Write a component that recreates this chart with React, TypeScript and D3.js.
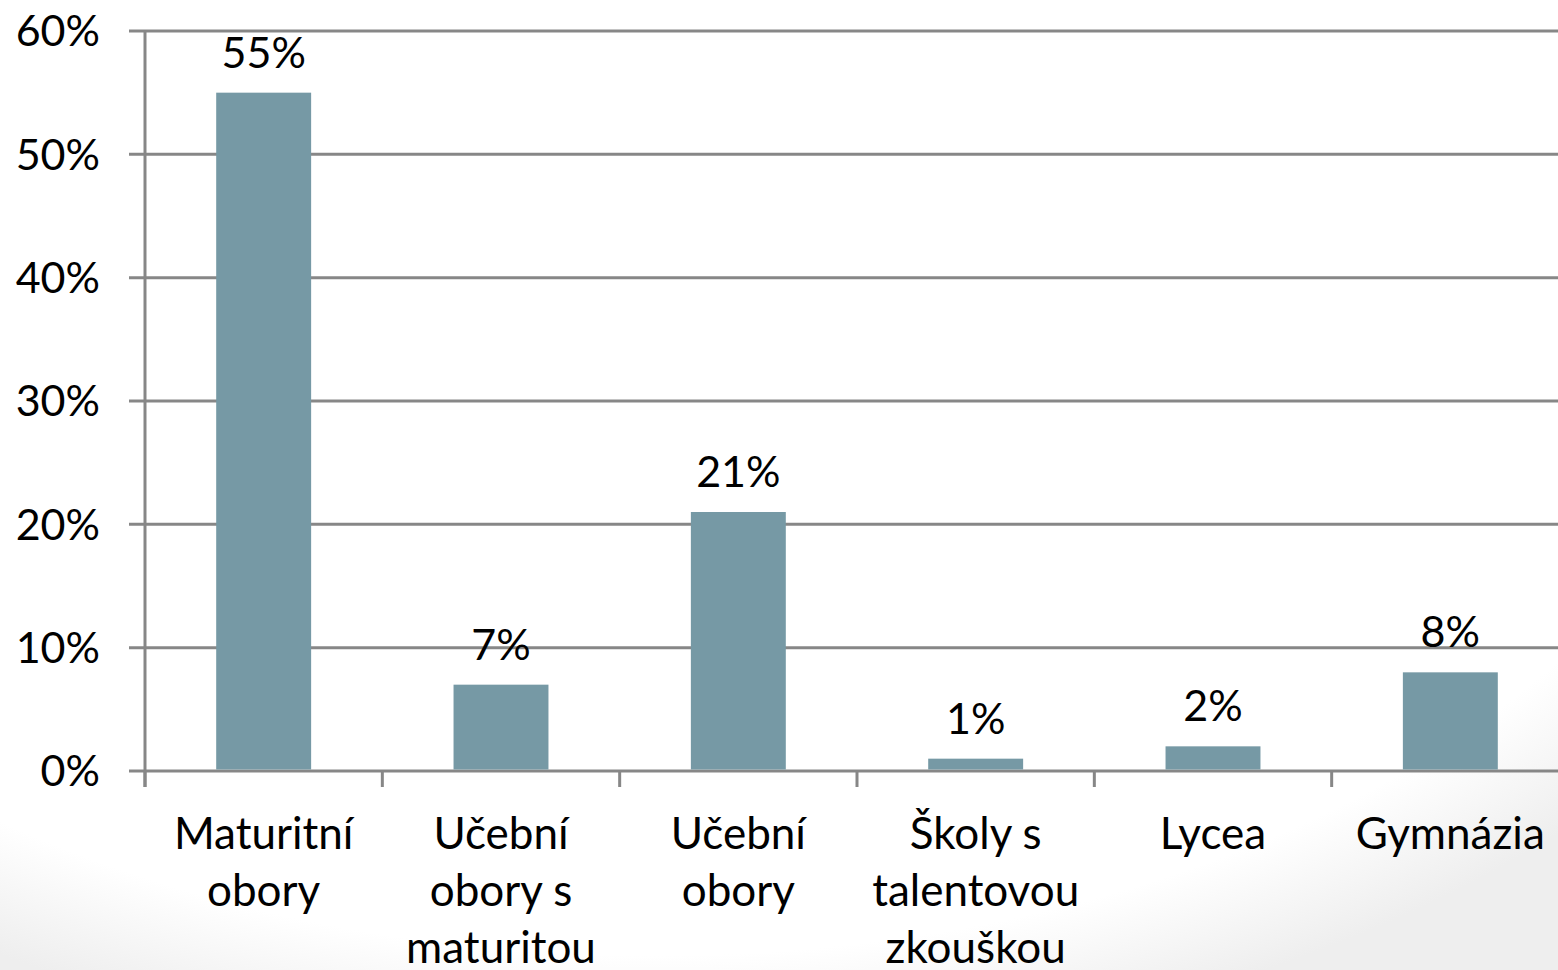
import { useMemo } from 'react';
import * as d3 from 'd3';

// Data
const categories = [
    'Maturitní\nobory',
    'Učební\nobory s\nmaturitou',
    'Učební\nobory',
    'Školy s\ntalentovou\nzkouškou',
    'Lycea',
    'Gymnázia',
];
const shares = [55, 7, 21, 1, 2, 8];
const yTicks = [0, 10, 20, 30, 40, 50, 60];

const W = 1558;
const H = 970;
const margin = { top: 31, right: -11, bottom: 199, left: 145 };
const FONT = 'Lato, "Open Sans", sans-serif';
const BAR = '#7699a5';
const GRID = '#878787';

export default function App() {
    const x = useMemo(() => d3.scaleBand<string>()
        .domain(categories)
        .range([margin.left, W - margin.right])
        .paddingInner(0.6)
        .paddingOuter(0.3), []);

    const y = useMemo(() => d3.scaleLinear()
        .domain([0, 60])
        .range([H - margin.bottom, margin.top]), []);

    const step = x.step();
    const y0 = y(0);

    return (
        <div style={{ position: 'absolute', left: 0, top: 0 }}>
            <svg width={W} height={H} style={{ display: 'block', fontFamily: FONT }}>
                <defs>
                    <radialGradient id="bg" cx="42%" cy="28%" r="82%">
                        <stop offset="0.86" stopColor="#ffffff" />
                        <stop offset="1" stopColor="#eeeeee" />
                    </radialGradient>
                </defs>
                <rect width={W} height={H} fill="url(#bg)" />

                {/* gridlines + y labels */}
                {yTicks.map(t => (
                    <g key={t}>
                        <line x1={margin.left - 16} x2={W} y1={y(t)} y2={y(t)} stroke={GRID} strokeWidth={3} />
                        <text x={100} y={y(t)} dy="0.36em" textAnchor="end" fontSize={43} fill="#000">{t}%</text>
                    </g>
                ))}

                {/* y axis */}
                <line x1={margin.left} x2={margin.left} y1={y(60)} y2={y0 + 16} stroke={GRID} strokeWidth={3} />

                {/* category ticks */}
                {categories.map((c, i) => (
                    <line key={'t' + i} x1={margin.left + step * i} x2={margin.left + step * i}
                        y1={y0} y2={y0 + 16} stroke={GRID} strokeWidth={3} />
                ))}

                {/* bars */}
                {categories.map((c, i) => (
                    <rect key={'b' + i} x={x(c)!} y={y(shares[i])} width={x.bandwidth()}
                        height={y0 - y(shares[i]) - 1.5} fill={BAR} />
                ))}

                {/* value labels */}
                {categories.map((c, i) => (
                    <text key={'v' + i} x={x(c)! + x.bandwidth() / 2} y={y(shares[i]) - 25}
                        textAnchor="middle" fontSize={43} fill="#000">{shares[i]}%</text>
                ))}

                {/* category labels */}
                {categories.map((c, i) => (
                    <text key={'c' + i} x={x(c)! + x.bandwidth() / 2} y={849}
                        textAnchor="middle" fontSize={44} fill="#000">
                        {c.split('\n').map((line, j) => (
                            <tspan key={j} x={x(c)! + x.bandwidth() / 2} y={849 + j * 57}>{line}</tspan>
                        ))}
                    </text>
                ))}
            </svg>
        </div>
    );
}
